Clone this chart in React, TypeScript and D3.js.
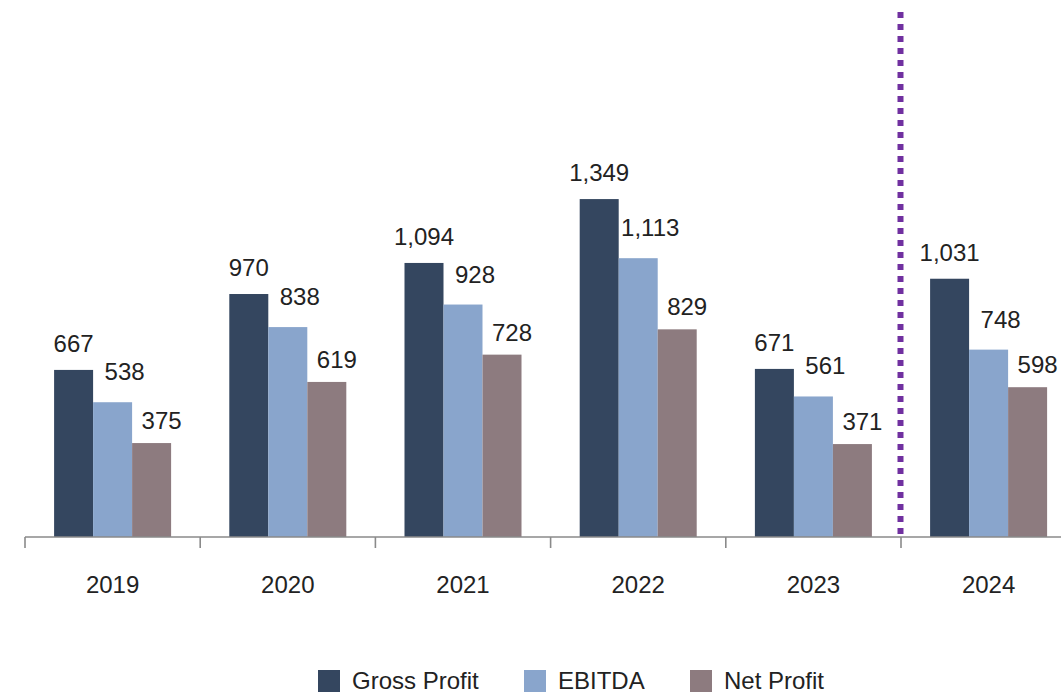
import React from "react";
import * as d3 from "d3";

const years = ["2019", "2020", "2021", "2022", "2023", "2024"];
const seriesNames = ["Gross Profit", "EBITDA", "Net Profit"];
const grossProfit = [667, 970, 1094, 1349, 671, 1031];
const ebitda = [538, 838, 928, 1113, 561, 748];
const netProfit = [375, 619, 728, 829, 371, 598];

const colors = ["#34465f", "#89a5cc", "#8d7b7f"];
// label nudges per series (right shift, gap above bar)
const labelDx = [0, 12, 10];
const labelGap = [18, 22, 14];

const width = 1061;
const height = 694;
const baseline = 537;
const font = "'Liberation Sans', Arial, sans-serif";

function App() {
  const values = [grossProfit, ebitda, netProfit];

  const x = d3.scaleBand().domain(years).range([25, 25 + 175.2 * 6]);
  const xs = d3
    .scaleBand()
    .domain(seriesNames)
    .range([0, x.bandwidth()])
    .paddingOuter(0.746);
  const y = d3.scaleLinear().domain([0, 2000]).range([baseline, 36]);

  const tickXs = years.map((yr) => x(yr)!).concat([x(years[years.length - 1])! + x.step()]);
  const fmt = d3.format(",");

  const legendX = [318, 524, 690];

  return (
    <svg
      width={width}
      height={height}
      style={{ position: "absolute", left: 0, top: 0 }}
      fontFamily={font}
    >
      <rect width={width} height={height} fill="#fff" />

      {years.map((yr, i) => (
        <g key={yr} transform={`translate(${x(yr)},0)`}>
          {seriesNames.map((s, j) => {
            const v = values[j][i];
            return (
              <g key={s}>
                <rect
                  x={xs(s)}
                  y={y(v)}
                  width={xs.bandwidth()}
                  height={baseline - y(v)}
                  fill={colors[j]}
                />
                <text
                  x={xs(s)! + xs.bandwidth() / 2 + labelDx[j]}
                  y={y(v) - labelGap[j]}
                  textAnchor="middle"
                  fontSize={24}
                  fill="#222"
                >
                  {fmt(v)}
                </text>
              </g>
            );
          })}
          <text
            x={x.bandwidth() / 2}
            y={593}
            textAnchor="middle"
            fontSize={24}
            fill="#222"
          >
            {yr}
          </text>
        </g>
      ))}

      {/* x axis */}
      <line x1={25} x2={width + 20} y1={baseline} y2={baseline} stroke="#8a8a8a" strokeWidth={1.6} />
      {tickXs.map((tx, i) => (
        <line key={i} x1={tx} x2={tx} y1={baseline} y2={baseline + 11} stroke="#8a8a8a" strokeWidth={1.6} />
      ))}

      {/* forecast divider */}
      <line
        x1={x("2024")! - 0.5}
        x2={x("2024")! - 0.5}
        y1={12}
        y2={536}
        stroke="#7030a0"
        strokeWidth={6}
        strokeDasharray="6 6"
      />

      {/* legend */}
      {seriesNames.map((s, j) => (
        <g key={s} transform={`translate(${legendX[j]},670)`}>
          <rect width={22} height={22} fill={colors[j]} />
          <text x={34} y={19} fontSize={24} fill="#222">
            {s}
          </text>
        </g>
      ))}
    </svg>
  );
}

export default App;
